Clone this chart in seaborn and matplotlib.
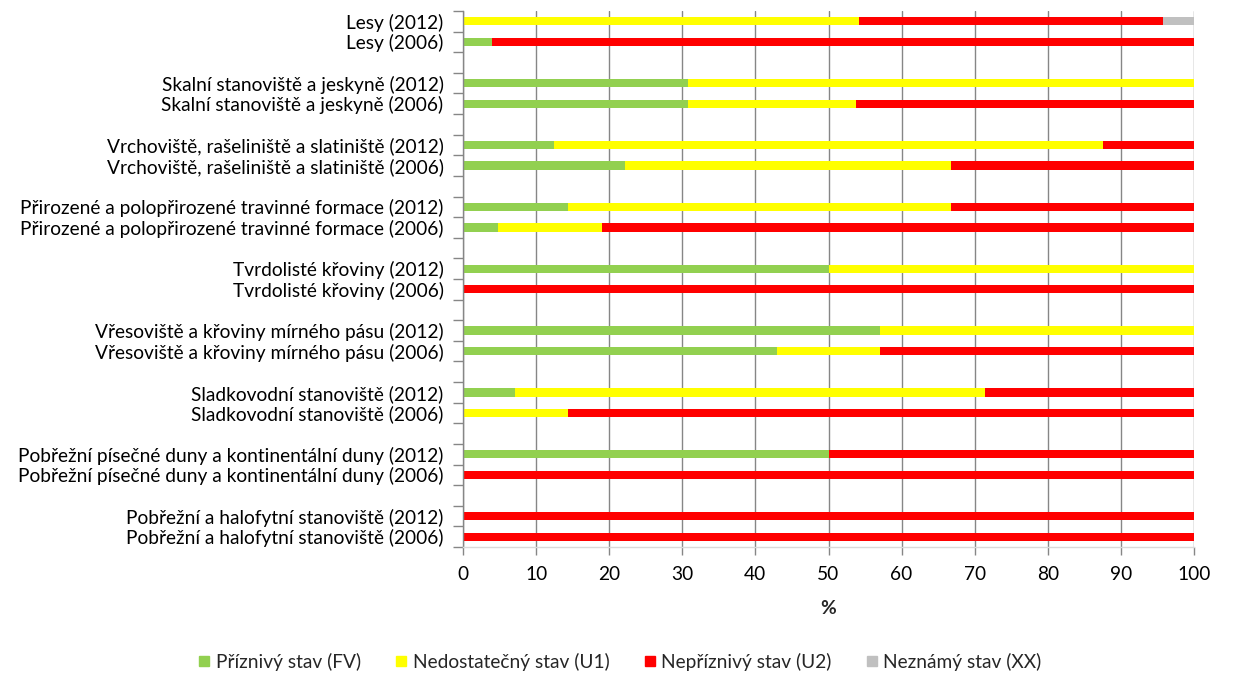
import matplotlib
matplotlib.use("Agg")
import matplotlib.pyplot as plt
import seaborn as sns
import pandas as pd
import numpy as np
from matplotlib.lines import Line2D
from matplotlib.ticker import FixedLocator

# ---- data (top to bottom) ----
labels = [
    "Lesy (2012)", "Lesy (2006)",
    "Skalní stanoviště a jeskyně (2012)", "Skalní stanoviště a jeskyně (2006)",
    "Vrchoviště, rašeliniště a slatiniště (2012)", "Vrchoviště, rašeliniště a slatiniště (2006)",
    "Přirozené a polopřirozené travinné formace (2012)", "Přirozené a polopřirozené travinné formace (2006)",
    "Tvrdolisté křoviny (2012)", "Tvrdolisté křoviny (2006)",
    "Vřesoviště a křoviny mírného pásu (2012)", "Vřesoviště a křoviny mírného pásu (2006)",
    "Sladkovodní stanoviště (2012)", "Sladkovodní stanoviště (2006)",
    "Pobřežní písečné duny a kontinentální duny (2012)", "Pobřežní písečné duny a kontinentální duny (2006)",
    "Pobřežní a halofytní stanoviště (2012)", "Pobřežní a halofytní stanoviště (2006)",
]
fv = [0.0, 4.0, 30.8, 30.8, 12.5, 22.2, 14.3, 4.8, 50.0, 0.0, 57.1, 42.9, 7.1, 0.0, 50.0, 0.0, 0.0, 0.0]
u1 = [54.2, 0.0, 69.2, 23.0, 75.0, 44.5, 52.4, 14.2, 50.0, 0.0, 42.9, 14.2, 64.3, 14.3, 0.0, 0.0, 0.0, 0.0]
u2 = [41.6, 96.0, 0.0, 46.2, 12.5, 33.3, 33.3, 81.0, 0.0, 100.0, 0.0, 42.9, 28.6, 85.7, 50.0, 100.0, 100.0, 100.0]
xx = [4.2, 0.0, 0.0, 0.0, 0.0, 0.0, 0.0, 0.0, 0.0, 0.0, 0.0, 0.0, 0.0, 0.0, 0.0, 0.0, 0.0, 0.0]
legend_labels = ["Příznivý stav (FV)", "Nedostatečný stav (U1)", "Nepříznivý stav (U2)", "Neznámý stav (XX)"]
colors = ["#92D050", "#FFFF00", "#FF0000", "#C0C0C0"]
x_ticks = [0, 10, 20, 30, 40, 50, 60, 70, 80, 90, 100]

# slot positions: pairs with one empty slot between groups
pos = []
for g in range(9):
    pos += [g * 3, g * 3 + 1]
n_slots = 26

df = pd.DataFrame({"label": labels, "pos": pos, "FV": fv, "U1": u1, "U2": u2, "XX": xx})
df["c1"] = df["FV"]
df["c2"] = df["c1"] + df["U1"]
df["c3"] = df["c2"] + df["U2"]
df["c4"] = df["c3"] + df["XX"]

sns.set_theme(style="white")
plt.rcParams["font.family"] = ["Lato", "DejaVu Sans"]
FS = 13.8

fig = plt.figure(figsize=(12.33, 6.94), dpi=100)
ax = fig.add_axes([463 / 1233, 1 - 547 / 694, (1194 - 463) / 1233, (547 - 11) / 694])

for col, c in zip(["c4", "c3", "c2", "c1"], colors[::-1]):
    sns.barplot(data=df, x=col, y="pos", orient="y", native_scale=True,
                color=c, width=0.4, saturation=1, linewidth=0, ax=ax, errorbar=None)

ax.set_xlim(0, 100)
ax.set_ylim(n_slots - 0.5, -0.5)
ax.set_xticks(x_ticks)
ax.set_xticklabels([str(t) for t in x_ticks], fontsize=FS, color="#000000")
ax.set_yticks(pos)
ax.set_yticklabels(labels, fontsize=FS, color="#000000")
ax.yaxis.set_minor_locator(FixedLocator(np.arange(-0.5, n_slots, 1.0)))
ax.tick_params(axis="y", which="major", length=0, pad=14)
ax.tick_params(axis="y", which="minor", length=7, width=1, color="#868686", left=True)
ax.tick_params(axis="x", which="major", length=6, width=1, color="#868686", bottom=True, pad=8)
ax.grid(axis="x", color="#868686", linewidth=1)
ax.set_axisbelow(True)
for s in ["top", "right"]:
    ax.spines[s].set_visible(False)
ax.spines["left"].set_color("#868686")
ax.spines["left"].set_linewidth(1)
ax.spines["bottom"].set_color("#D9D9D9")
ax.spines["bottom"].set_linewidth(1)
ax.set_ylabel("")
ax.set_xlabel("%", fontsize=FS, fontweight="bold", labelpad=12)

handles = [Line2D([0], [0], marker="s", linestyle="none", markersize=7,
                  markerfacecolor=c, markeredgecolor=c) for c in colors]
fig.legend(handles, legend_labels, loc="center", bbox_to_anchor=(620 / 1233, 1 - 662 / 694),
           ncol=4, frameon=False, fontsize=FS, handlelength=0.6, handletextpad=0.3,
           columnspacing=1.8)

fig.savefig("out.png", dpi=100)
